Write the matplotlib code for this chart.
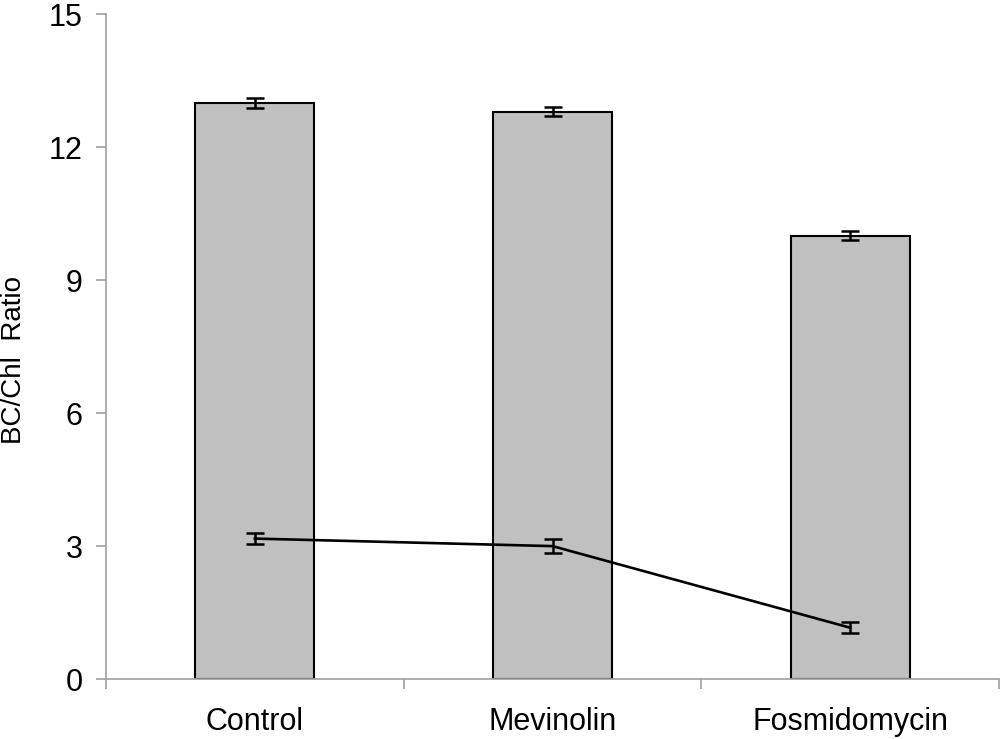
import matplotlib
matplotlib.use("Agg")
import matplotlib.pyplot as plt
import numpy as np

plt.rcParams["font.family"] = ["Liberation Sans", "DejaVu Sans"]

# Values
categories = ["Control", "Mevinolin", "Fosmidomycin"]
bar_values = [13.0, 12.8, 10.0]
bar_errors = [0.11, 0.10, 0.10]
line_values = [3.17, 3.0, 1.16]
line_errors = [0.12, 0.15, 0.13]
y_ticks = [0, 3, 6, 9, 12, 15]

AXIS_GRAY = "#a0a0a0"

fig = plt.figure(figsize=(10, 7.39), dpi=100)
ax = fig.add_axes([0.106, 0.081, 0.893, 0.9])

x = np.arange(len(categories))
ax.bar(x, bar_values, width=0.4, color="#c0c0c0", edgecolor="black",
       linewidth=1.5, zorder=2)
ax.errorbar(x, bar_values, yerr=bar_errors, fmt="none", ecolor="black",
            elinewidth=1.8, capsize=6.5, capthick=1.8, zorder=3)
ax.errorbar(x, line_values, yerr=line_errors, color="black", linewidth=1.9,
            elinewidth=1.8, capsize=6.5, capthick=1.8, zorder=4)

ax.set_xlim(-0.5, 2.5)
ax.set_ylim(0, 15)
ax.set_yticks(y_ticks)
ax.set_yticklabels([str(t) for t in y_ticks])
ax.set_xticks(x)
ax.set_xticklabels(categories)
ax.set_xticks(np.arange(-0.5, 2.6, 1.0), minor=True)

ax.spines["top"].set_visible(False)
ax.spines["right"].set_visible(False)
for side in ("left", "bottom"):
    ax.spines[side].set_color(AXIS_GRAY)
    ax.spines[side].set_linewidth(1.2)

ax.tick_params(axis="y", length=7, width=1.2, color=AXIS_GRAY,
               labelsize=22, pad=10)
ax.tick_params(axis="x", which="major", length=0, labelsize=22, pad=20)
ax.tick_params(axis="x", which="minor", length=7, width=1.2, color=AXIS_GRAY)

ax.set_ylabel("BC/Chl  Ratio", fontsize=20)
ax.yaxis.set_label_coords(-0.088, 0.48)

fig.savefig("out.png", dpi=100)
